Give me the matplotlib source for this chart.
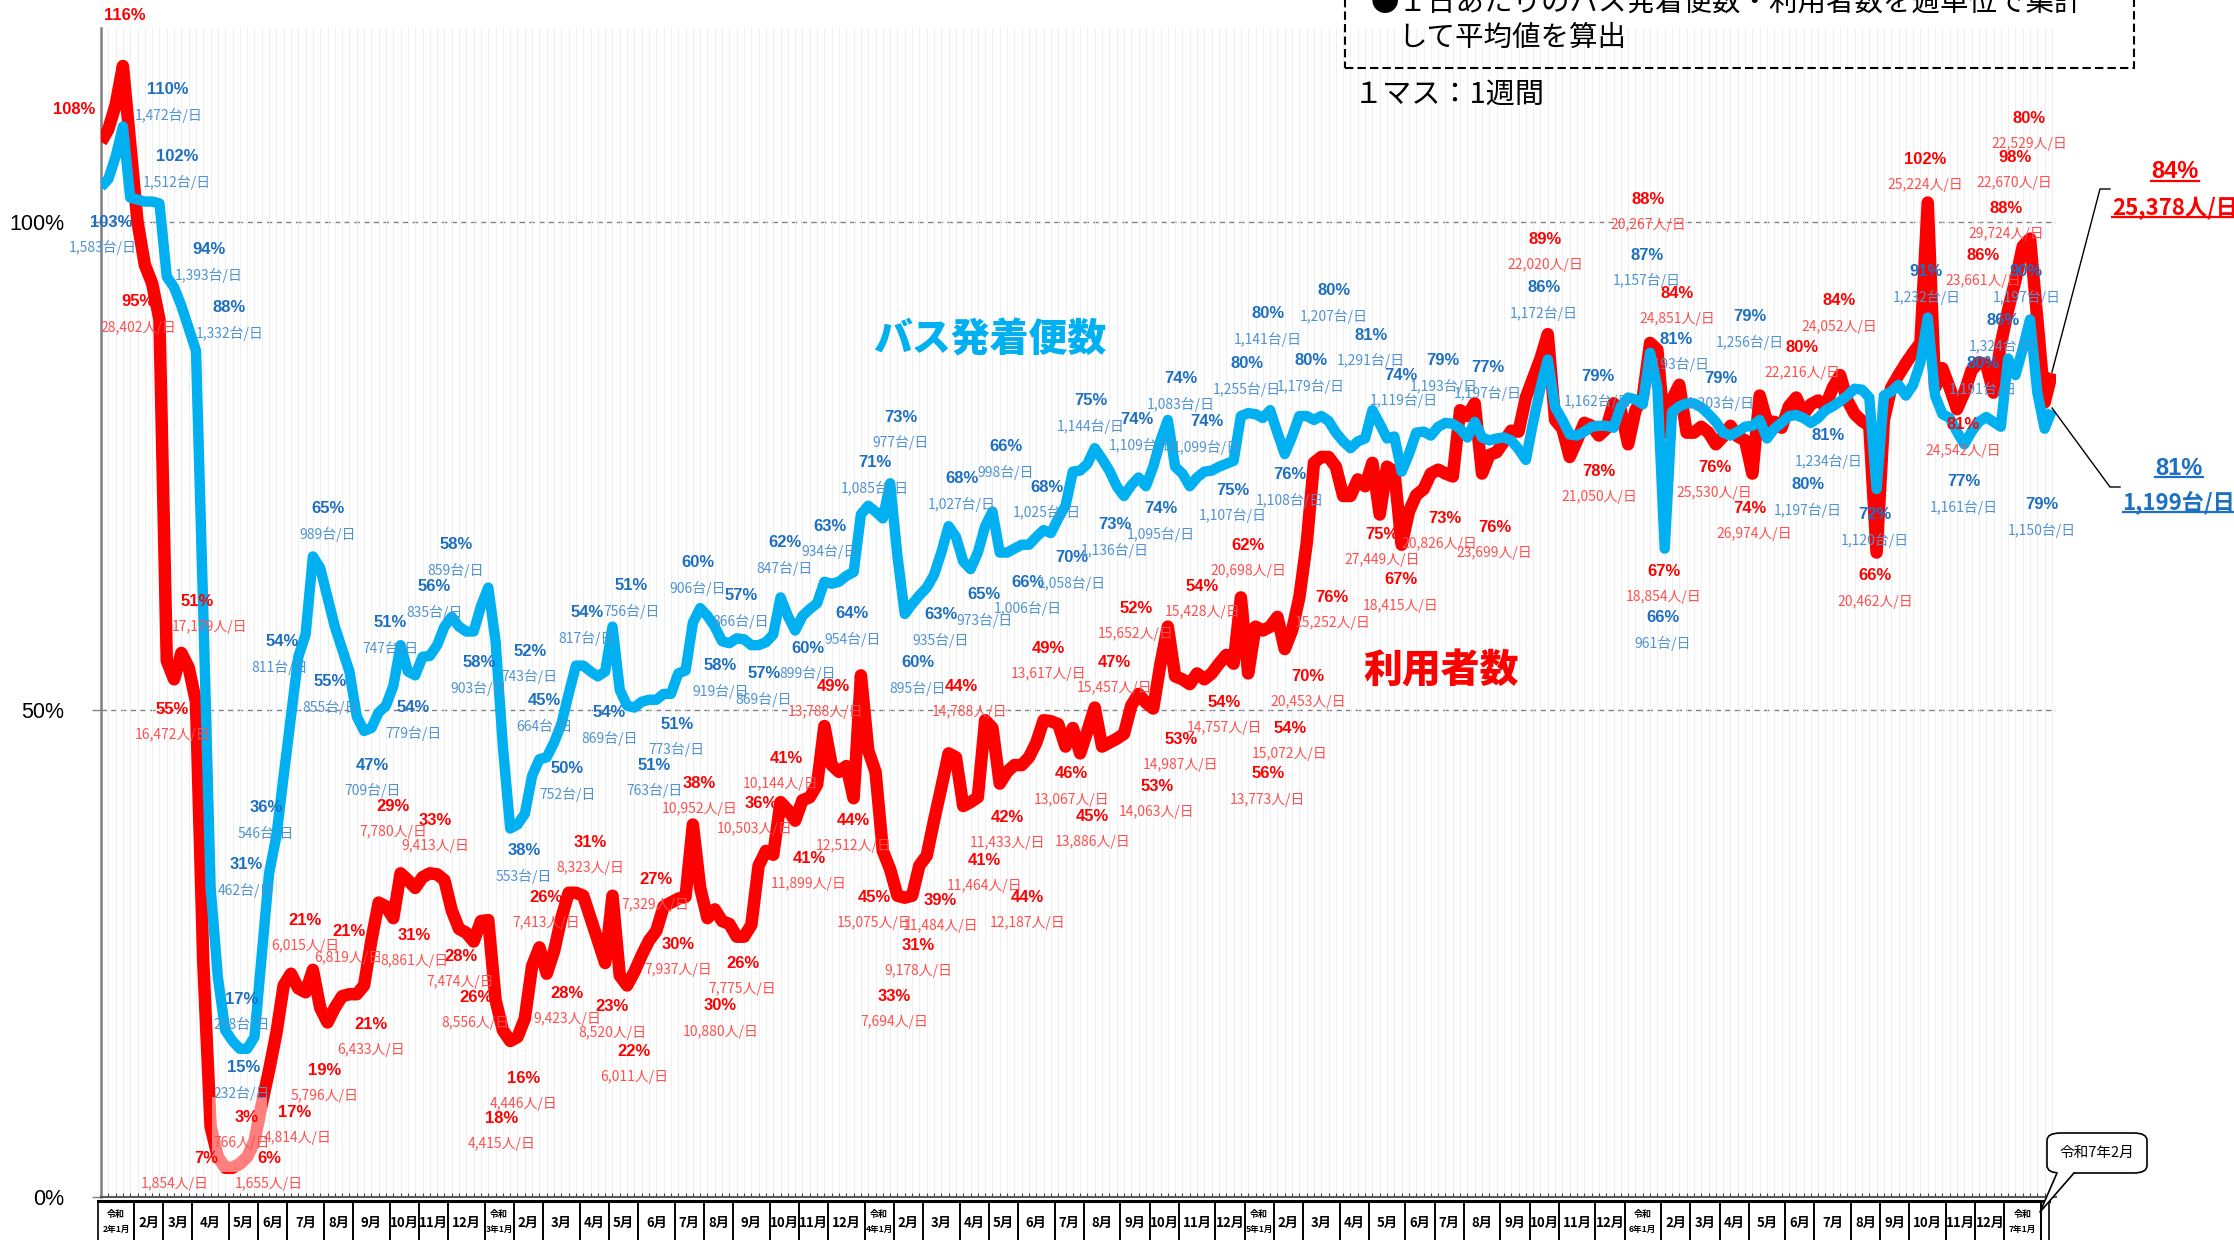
import datetime as dt
import numpy as np
import matplotlib
matplotlib.use("Agg")
import matplotlib.pyplot as plt
import matplotlib.transforms as mtrans
from matplotlib import font_manager
from matplotlib.patches import Rectangle, FancyBboxPatch, Polygon
from matplotlib.lines import Line2D

plt.rcParams['font.family'] = ['Noto Sans CJK JP', 'DejaVu Sans']

# weekly values (% of baseline), week 0 = week of 2020-01-01
red = [
    108.2, 109.5, 112.0, 116.0, 108.0, 100.0, 95.6, 93.7, 90.0, 55.0,
    53.1, 55.8, 54.3, 50.8, 24.0, 7.2, 4.1, 3.0, 3.0, 3.4,
    4.1, 5.7, 9.5, 13.0, 16.8, 21.7, 22.9, 21.4, 21.0, 23.3,
    19.4, 17.9, 19.4, 20.6, 20.8, 20.8, 21.7, 26.3, 30.2, 29.8,
    28.6, 33.2, 32.5, 31.7, 32.8, 33.2, 33.1, 32.5, 29.4, 27.5,
    27.1, 26.2, 28.3, 28.4, 20.2, 17.1, 16.0, 16.4, 18.3, 23.7,
    25.6, 22.9, 25.2, 28.6, 31.2, 31.2, 30.9, 28.6, 26.3, 24.0,
    30.9, 22.7, 21.7, 23.1, 24.8, 26.3, 27.3, 29.8, 30.2, 30.6,
    30.8, 38.2, 31.7, 28.6, 29.5, 28.3, 28.0, 26.7, 26.7, 27.9,
    34.0, 35.5, 35.1, 40.5, 39.7, 38.6, 40.7, 41.0, 42.3, 48.3,
    44.3, 43.6, 44.2, 40.9, 53.5, 45.8, 43.6, 35.5, 33.6, 30.9,
    30.7, 30.9, 34.0, 35.0, 38.6, 42.0, 45.5, 45.1, 40.1, 40.5,
    41.0, 48.9, 48.1, 42.4, 43.6, 44.3, 44.3, 45.1, 46.6, 48.9,
    48.8, 48.5, 46.2, 48.1, 45.5, 47.8, 50.2, 46.2, 46.6, 47.0,
    47.5, 50.4, 51.6, 50.7, 50.1, 54.7, 58.5, 53.4, 53.1, 52.6,
    53.7, 53.1, 53.7, 54.7, 55.6, 54.7, 61.5, 53.7, 58.5, 58.1,
    58.5, 59.5, 56.2, 58.1, 61.5, 67.0, 75.3, 75.9, 75.9, 74.9,
    71.9, 71.9, 73.6, 72.9, 75.3, 70.0, 74.9, 74.4, 66.9, 70.3,
    72.0, 72.6, 74.2, 74.6, 74.2, 73.9, 80.7, 80.1, 81.4, 74.2,
    76.1, 76.4, 77.5, 78.6, 78.5, 82.0, 84.0, 86.0, 88.5, 79.7,
    78.8, 75.9, 77.6, 79.4, 79.1, 78.1, 78.8, 81.4, 80.7, 77.2,
    80.7, 82.0, 87.6, 86.9, 78.4, 81.8, 83.3, 78.4, 78.4, 79.0,
    78.4, 77.2, 78.0, 79.1, 78.0, 77.6, 74.2, 82.2, 79.5, 79.5,
    78.9, 81.1, 82.0, 80.3, 81.3, 81.7, 81.1, 83.0, 84.3, 81.7,
    80.3, 79.6, 79.1, 66.1, 79.7, 83.0, 84.3, 85.5, 86.6, 87.6,
    102.0, 83.0, 85.0, 83.0, 80.8, 82.5, 84.8, 85.6, 85.4, 82.5,
    87.5, 91.0, 94.0, 97.5, 98.3, 90.0, 81.5, 84.5,
]
blue = [
    103.6, 104.4, 106.7, 109.8, 102.5, 102.3, 102.1, 102.1, 101.9, 94.4,
    93.3, 91.4, 89.1, 86.8, 60.0, 31.7, 22.5, 17.1, 16.0, 15.2,
    15.2, 16.4, 24.8, 33.2, 37.0, 43.2, 49.3, 55.4, 57.7, 65.7,
    64.5, 61.5, 58.5, 56.2, 53.9, 49.3, 47.8, 48.1, 49.7, 50.4,
    52.4, 56.6, 53.9, 53.5, 55.4, 55.5, 56.6, 58.5, 59.5, 58.5,
    58.0, 58.0, 60.6, 62.5, 57.0, 46.2, 37.8, 38.2, 39.3, 43.2,
    44.9, 45.1, 46.6, 48.5, 51.6, 54.5, 54.5, 53.9, 53.4, 53.9,
    58.5, 52.0, 50.4, 50.2, 50.8, 51.0, 51.0, 51.6, 51.6, 53.7,
    54.0, 58.9, 60.4, 59.6, 58.5, 57.0, 56.8, 57.3, 57.2, 56.6,
    56.6, 56.9, 57.7, 61.5, 59.6, 58.1, 59.6, 60.3, 60.9, 63.1,
    62.9, 63.1, 63.7, 64.1, 70.0, 70.9, 70.3, 69.6, 73.2, 65.7,
    59.8, 60.8, 61.7, 62.5, 63.8, 66.1, 68.8, 67.7, 65.2, 64.4,
    66.1, 68.8, 70.3, 66.1, 66.1, 66.5, 66.9, 66.9, 67.7, 68.4,
    68.1, 69.6, 70.9, 74.4, 74.5, 75.2, 76.8, 75.7, 74.5, 72.9,
    71.9, 73.0, 73.8, 72.9, 74.9, 77.6, 79.7, 74.9, 74.2, 72.9,
    73.8, 74.4, 74.5, 74.9, 75.2, 75.5, 80.1, 80.4, 80.3, 79.9,
    80.7, 78.4, 76.2, 78.0, 80.1, 80.1, 79.7, 80.1, 79.6, 78.4,
    77.5, 76.8, 77.5, 77.8, 80.7, 79.3, 77.8, 78.0, 74.4, 76.2,
    78.4, 78.5, 78.1, 79.0, 79.4, 79.3, 78.8, 77.9, 79.5, 77.9,
    77.6, 77.8, 77.9, 77.6, 76.7, 75.6, 79.5, 83.0, 85.9, 81.0,
    79.7, 78.2, 78.1, 78.5, 79.0, 79.1, 79.1, 78.9, 81.1, 82.0,
    81.8, 81.3, 86.6, 83.0, 66.5, 80.5, 81.1, 81.4, 81.4, 81.0,
    80.3, 79.5, 78.4, 78.1, 78.5, 79.0, 79.1, 79.7, 77.8, 78.8,
    79.4, 80.1, 80.2, 79.9, 79.4, 79.9, 80.7, 81.1, 81.6, 82.2,
    82.9, 82.8, 82.0, 72.6, 82.2, 82.6, 83.3, 82.2, 83.3, 85.6,
    90.2, 82.2, 80.3, 79.9, 78.5, 77.2, 78.5, 79.5, 80.0, 79.5,
    79.0, 86.0, 84.3, 87.0, 90.0, 82.5, 78.8, 80.7,
]

# labels: (week, %, percent text, count text, count x shift)
red_labels = [
    (3.3, 121.2, "116%", "26,708人/日", 0), (-3.7, 111.5, "108%", "36,283人/日", -0.8),
    (5.1, 91.8, "95%", "28,402人/日", 0), (13.1, 61.1, "51%", "17,179人/日", 1.7),
    (9.8, 50.0, "55%", "16,472人/日", 0), (14.4, 4.0, "7%", "1,854人/日", -4.3),
    (19.9, 8.2, "3%", "766人/日", -0.6), (23.0, 4.0, "6%", "1,655人/日", 0),
    (26.5, 8.7, "17%", "4,814人/日", 0.4), (30.6, 13.0, "19%", "5,796人/日", 0),
    (27.9, 28.4, "21%", "6,015人/日", 0), (33.9, 27.2, "21%", "6,819人/日", 0),
    (36.9, 17.7, "21%", "6,433人/日", 0), (40.0, 40.1, "29%", "7,780人/日", 0),
    (45.8, 38.6, "33%", "9,413人/日", 0), (42.9, 26.8, "31%", "8,861人/日", 0),
    (49.2, 24.7, "28%", "7,474人/日", 0), (51.3, 20.5, "26%", "8,556人/日", 0),
    (57.9, 12.2, "16%", "4,446人/日", 0), (54.8, 8.1, "18%", "4,415人/日", 0),
    (60.9, 30.7, "26%", "7,413人/日", 0), (63.8, 20.9, "28%", "9,423人/日", 0),
    (66.9, 36.4, "31%", "8,323人/日", 0), (70.0, 19.5, "23%", "8,520人/日", 0),
    (73.0, 14.9, "22%", "6,011人/日", 0), (75.9, 32.6, "27%", "7,329人/日", 0),
    (79.0, 25.9, "30%", "7,937人/日", 0), (81.9, 42.4, "38%", "10,952人/日", 0),
    (84.8, 19.6, "30%", "10,880人/日", 0), (87.8, 24.0, "26%", "7,775人/日", 0),
    (90.3, 40.4, "36%", "10,503人/日", -0.8), (93.8, 45.0, "41%", "10,144人/日", -0.8),
    (96.9, 34.7, "41%", "11,899人/日", 0), (100.2, 52.4, "49%", "13,788人/日", -1.0),
    (103.0, 38.6, "44%", "12,512人/日", 0), (105.9, 30.7, "45%", "15,075人/日", 0),
    (111.8, 25.8, "31%", "9,178人/日", 0), (108.6, 20.6, "33%", "7,694人/日", 0),
    (114.9, 30.4, "39%", "11,484人/日", 0), (117.8, 52.4, "44%", "14,788人/日", 1.0),
    (120.9, 34.5, "41%", "11,464人/日", 0), (124.0, 38.9, "42%", "11,433人/日", 0),
    (126.8, 30.7, "44%", "12,187人/日", 0), (129.7, 56.3, "49%", "13,617人/日", 0),
    (132.8, 43.4, "46%", "13,067人/日", 0), (135.7, 39.0, "45%", "13,886人/日", 0),
    (138.7, 54.8, "47%", "15,457人/日", 0), (141.6, 60.4, "52%", "15,652人/日", 0),
    (147.8, 46.9, "53%", "14,987人/日", 0), (144.5, 42.1, "53%", "14,063人/日", 0),
    (150.7, 62.6, "54%", "15,428人/日", 0), (153.7, 50.7, "54%", "14,757人/日", 0),
    (157.0, 66.8, "62%", "20,698人/日", 0), (159.7, 43.4, "56%", "13,773人/日", 0),
    (162.7, 48.1, "54%", "15,072人/日", 0), (165.2, 53.4, "70%", "20,453人/日", 0),
    (168.5, 61.5, "76%", "15,252人/日", 0), (175.3, 68.0, "75%", "27,449人/日", 0),
    (177.9, 63.3, "67%", "18,415人/日", 0), (183.9, 69.6, "73%", "20,826人/日", -0.8),
    (190.7, 68.7, "76%", "23,699人/日", 0), (197.7, 98.2, "89%", "22,020人/日", 0),
    (205.0, 74.4, "78%", "21,050人/日", 0), (211.8, 102.3, "88%", "20,267人/日", 0),
    (215.7, 92.7, "84%", "24,851人/日", 0), (213.9, 64.2, "67%", "18,854人/日", 0),
    (220.8, 74.8, "76%", "25,530人/日", 0), (225.6, 70.6, "74%", "26,974人/日", 0.6),
    (232.8, 87.1, "80%", "22,216人/日", 0), (237.9, 91.9, "84%", "24,052人/日", 0),
    (242.8, 63.7, "66%", "20,462人/日", 0), (249.6, 106.4, "102%", "25,224人/日", 0),
    (254.9, 79.2, "81%", "24,542人/日", 0), (257.6, 96.6, "86%", "23,661人/日", 0),
    (260.7, 101.4, "88%", "29,724人/日", 0), (261.9, 106.6, "98%", "22,670人/日", 0),
    (263.9, 110.6, "80%", "22,529人/日", 0),
]
blue_labels = [
    (1.4, 100.0, "103%", "1,583台/日", -1.2), (9.2, 113.6, "110%", "1,472台/日", 0),
    (10.4, 106.7, "102%", "1,512台/日", 0), (14.8, 97.2, "94%", "1,393台/日", 0),
    (17.6, 91.2, "88%", "1,332台/日", 0), (31.0, 70.6, "65%", "989台/日", 0),
    (24.8, 57.0, "54%", "811台/日", -0.4), (31.4, 52.9, "55%", "855台/日", 0),
    (22.6, 39.9, "36%", "546台/日", 0), (19.9, 34.1, "31%", "462台/日", 0),
    (19.3, 20.3, "17%", "258台/日", 0), (19.5, 13.3, "15%", "232台/日", -0.2),
    (37.1, 44.3, "47%", "709台/日", 0), (39.6, 58.9, "51%", "747台/日", 0),
    (42.7, 50.2, "54%", "779台/日", 0), (45.6, 62.6, "56%", "835台/日", 0),
    (48.6, 66.9, "58%", "859台/日", 0), (51.7, 54.8, "58%", "903台/日", 0),
    (57.9, 35.5, "38%", "553台/日", 0), (58.7, 56.0, "52%", "743台/日", 0),
    (60.7, 50.9, "45%", "664台/日", 0), (63.8, 43.9, "50%", "752台/日", 0),
    (66.5, 59.9, "54%", "817台/日", 0), (69.6, 49.7, "54%", "869台/日", 0),
    (72.6, 62.7, "51%", "756台/日", 0), (75.7, 44.3, "51%", "763台/日", 0),
    (78.8, 48.5, "51%", "773台/日", 0), (81.7, 65.1, "60%", "906台/日", 0),
    (84.8, 54.5, "58%", "919台/日", 0), (87.6, 61.7, "57%", "866台/日", 0),
    (90.7, 53.7, "57%", "869台/日", 0), (93.6, 67.1, "62%", "847台/日", 0),
    (96.7, 56.3, "60%", "899台/日", 0), (99.7, 68.8, "63%", "934台/日", 0),
    (102.8, 59.8, "64%", "954台/日", 0), (105.9, 75.3, "71%", "1,085台/日", 0),
    (109.4, 80.0, "73%", "977台/日", 0), (111.8, 54.8, "60%", "895台/日", 0),
    (114.9, 59.7, "63%", "935台/日", 0), (117.8, 73.7, "68%", "1,027台/日", 0),
    (120.9, 61.8, "65%", "973台/日", 0), (123.8, 77.0, "66%", "998台/日", 0),
    (126.8, 63.0, "66%", "1,006台/日", 0), (129.5, 72.8, "68%", "1,025台/日", 0),
    (132.8, 65.6, "70%", "1,058台/日", 0), (135.5, 81.7, "75%", "1,144台/日", 0),
    (138.7, 69.0, "73%", "1,136台/日", 0), (141.8, 79.7, "74%", "1,109台/日", 0.8),
    (145.1, 70.6, "74%", "1,095台/日", 0), (147.8, 83.9, "74%", "1,083台/日", 0),
    (151.3, 79.5, "74%", "1,099台/日", 0), (154.9, 72.5, "75%", "1,107台/日", 0),
    (156.8, 85.5, "80%", "1,255台/日", 0), (159.7, 90.6, "80%", "1,141台/日", 0),
    (162.7, 74.1, "76%", "1,108台/日", 0), (165.6, 85.8, "80%", "1,179台/日", 0),
    (168.7, 93.0, "80%", "1,207台/日", 0), (173.8, 88.4, "81%", "1,291台/日", 0),
    (177.9, 84.3, "74%", "1,119台/日", 0.4), (183.7, 85.8, "79%", "1,193台/日", 0),
    (189.8, 85.1, "77%", "1,197台/日", 0), (197.5, 93.3, "86%", "1,172台/日", 0),
    (204.8, 84.2, "79%", "1,162台/日", 0), (211.6, 96.6, "87%", "1,157台/日", 0),
    (215.5, 88.0, "81%", "1,193台/日", 0), (213.7, 59.4, "66%", "961台/日", 0),
    (221.7, 84.0, "79%", "1,203台/日", 0), (225.6, 90.3, "79%", "1,256台/日", 0),
    (233.6, 73.1, "80%", "1,197台/日", 0), (236.4, 78.1, "81%", "1,234台/日", 0),
    (242.8, 70.0, "72%", "1,120台/日", 0), (249.8, 94.9, "91%", "1,232台/日", 0),
    (254.9, 73.4, "77%", "1,161台/日", 0), (257.6, 85.5, "80%", "1,191台/日", 0),
    (260.3, 89.9, "86%", "1,324台/日", 0), (263.5, 94.9, "90%", "1,197台/日", 0),
    (265.6, 71.0, "79%", "1,150台/日", 0),
]

last_red = ("84%", "25,378人/日")
last_blue = ("81%", "1,199台/日")

RED = "#ff0000"
RED_TXT = "#ff4f4f"
BLUE = "#00b0f0"
BLUE_PCT = "#1c6fc1"
BLUE_TXT = "#4f93d3"

installed = {f.name for f in font_manager.fontManager.ttflist}
has_narrow = "Liberation Sans Narrow" in installed
narrow = "Liberation Sans Narrow" if has_narrow else "Liberation Sans"
latin = ["Liberation Sans", "DejaVu Sans"]

W, H = 2234, 1240
fig = plt.figure(figsize=(W / 100, H / 100), dpi=100)


def fx(px):
    return px / W


def fy(py):
    return 1 - py / H


ax = fig.add_axes([fx(101), fy(1197), (2056 - 101) / W, (1197 - 28) / H])
weeks = np.arange(len(red))
ax.set_xlim(0, (2056 - 101) / 7.307)
ax.set_ylim(0, 119.9)

ax.set_xticks(weeks)
ax.set_xticklabels([])
ax.tick_params(axis="x", direction="in", length=3, width=0.8, color="#404040")
ax.grid(axis="x", color="#ededed", lw=0.6, zorder=0)
ax.set_yticks([0, 50, 100])
ax.set_yticklabels(["0%", "50%", "100%"], family=[narrow, "DejaVu Sans"],
                   fontsize=18 if has_narrow else 15.5)
ax.tick_params(axis="y", length=6.5, width=1, color="#7f7f7f", pad=20)
for s in ["top", "right"]:
    ax.spines[s].set_visible(False)
ax.spines["left"].set_color("#7f7f7f")
ax.spines["left"].set_linewidth(1.8)
ax.spines["bottom"].set_color("#595959")
ax.spines["bottom"].set_linewidth(1.5)
for yv in (50, 100):
    ax.axhline(yv, color="#808080", lw=1, ls=(0, (4, 3)), zorder=1)

ax.plot(weeks, red, color=RED, lw=9, solid_joinstyle="round", solid_capstyle="butt", zorder=3)
ax.plot(weeks, blue, color=BLUE, lw=7.5, solid_joinstyle="round", solid_capstyle="butt", zorder=3.2)

# light box over the trough
ax.add_patch(Rectangle((15.2, 2.6), 7.5, 7.7, fc="white", ec="none", alpha=0.5, zorder=3.5))

for i, v, p, c, dx in red_labels:
    ax.text(i, v, p, color=RED, fontsize=12, fontweight="bold", family=latin,
            ha="center", va="center", zorder=6)
    ax.annotate(c, (i + dx, v), xytext=(0, -18.5), textcoords="offset points",
                ha="center", va="center", fontsize=10, color=RED_TXT, zorder=6)
for i, v, p, c, dx in blue_labels:
    ax.text(i, v, p, color=BLUE_PCT, fontsize=12, fontweight="bold", family=latin,
            ha="center", va="center", zorder=6)
    ax.annotate(c, (i + dx, v), xytext=(0, -18.5), textcoords="offset points",
                ha="center", va="center", fontsize=10, color=BLUE_TXT, zorder=6)

ax.text(121.7, 87.9, "バス発着便数", color=BLUE, fontsize=28, fontweight="heavy",
        ha="center", va="center", zorder=5)
ax.text(183.4, 54.0, "利用者数", color=RED, fontsize=28, fontweight="heavy",
        ha="center", va="center", zorder=5)

# month table under the axis
trans = mtrans.blended_transform_factory(ax.transData, ax.transAxes)
start = dt.date(2020, 1, 1)
months = []
y, m = 2020, 1
while (y, m) <= (2025, 2):
    d = dt.date(y, m, 1)
    d += dt.timedelta(days=(2 - d.weekday()) % 7)
    months.append((y, m, (d - start).days / 7 - 0.5))
    m += 1
    if m > 12:
        m, y = 1, y + 1
top, bot = (1197 - 1201) / 1169, (1197 - 1252) / 1169
for k, (y, m, left) in enumerate(months):
    right = months[k + 1][2] if k + 1 < len(months) else 266.6
    left = max(left, -0.4)
    ax.add_patch(Rectangle((left, bot), right - left, top - bot, transform=trans,
                           fill=False, ec="black", lw=1.2, clip_on=False))
    xc = (left + right) / 2
    if m == 1:
        ax.text(xc, (1197 - 1215) / 1169, "令和", transform=trans, fontsize=6.5,
                ha="center", va="center", fontweight="bold")
        ax.text(xc, (1197 - 1229) / 1169, f"{y - 2018}年1月", transform=trans,
                fontsize=6.2, ha="center", va="center", fontweight="bold")
    elif not (y == 2025 and m == 2):
        ax.text(xc, (1197 - 1223) / 1169, f"{m}月", transform=trans, fontsize=9.5,
                ha="center", va="center", fontweight="bold")
ax.add_line(Line2D([-0.4, 266.6], [top, top], transform=trans, color="black",
                   lw=2.2, clip_on=False))

# header box
fig.add_artist(Rectangle((fx(1345), fy(68)), fx(2134) - fx(1345), fy(-30) - fy(68),
                         transform=fig.transFigure, fill=False, ec="black", lw=1.5,
                         ls=(0, (4, 2))))
fig.text(fx(1371), fy(3), "●１日あたりのバス発着便数・利用者数を週単位で集計",
         fontsize=20.5, ha="left", va="center")
fig.text(fx(1398), fy(38), "して平均値を算出", fontsize=20.5, ha="left", va="center")
fig.text(fx(1354), fy(95), "１マス：1週間", fontsize=21, ha="left", va="center")

# callout for the last month
fig.add_artist(FancyBboxPatch((fx(2047), fy(1173)), fx(2147) - fx(2047), fy(1133) - fy(1173),
                              boxstyle="round,pad=0,rounding_size=0.006",
                              transform=fig.transFigure, fc="white", ec="black", lw=1.2))
fig.add_artist(Polygon([(fx(2057), fy(1172)), (fx(2040), fy(1212)), (fx(2074), fy(1172))],
                       closed=True, transform=fig.transFigure, fc="white", ec="none"))
fig.add_artist(Line2D([fx(2057), fx(2040), fx(2074)], [fy(1173), fy(1212), fy(1173)],
                      transform=fig.transFigure, color="black", lw=1.2))
fig.text(fx(2097), fy(1153), "令和7年2月", fontsize=10.5, ha="center", va="center")

# latest values on the right
t1 = fig.text(fx(2175), fy(172), last_red[0], color=RED, fontsize=17, fontweight="bold",
              family=latin, ha="center", va="center")
t2 = fig.text(fx(2175), fy(208), last_red[1], color=RED, fontsize=16, fontweight="bold",
              ha="center", va="center")
t3 = fig.text(fx(2179), fy(469), last_blue[0], color=BLUE_PCT, fontsize=17, fontweight="bold",
              family=latin, ha="center", va="center")
t4 = fig.text(fx(2179), fy(503), last_blue[1], color=BLUE_PCT, fontsize=16, fontweight="bold",
              ha="center", va="center")
fig.add_artist(Line2D([fx(2052), fx(2100), fx(2110)], [fy(372), fy(189), fy(189)],
                      transform=fig.transFigure, color="black", lw=1))
fig.add_artist(Line2D([fx(2052), fx(2110), fx(2120)], [fy(408), fy(487), fy(487)],
                      transform=fig.transFigure, color="black", lw=1))

fig.canvas.draw()
r = fig.canvas.get_renderer()
for t, col in [(t1, RED), (t2, RED), (t3, BLUE_PCT), (t4, BLUE_PCT)]:
    bb = t.get_window_extent(r).transformed(fig.transFigure.inverted())
    yb = bb.y0 + 3 / H
    fig.add_artist(Line2D([bb.x0, bb.x1], [yb, yb], transform=fig.transFigure,
                          color=col, lw=1.6))

fig.savefig("out.png", dpi=100)
